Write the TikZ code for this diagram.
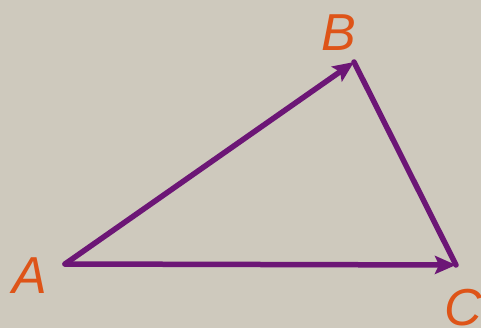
\documentclass[tikz,border=0pt]{standalone}
\usepackage{fontspec}
\setmainfont{Liberation Sans}
\usetikzlibrary{arrows.meta}
\definecolor{bg}{RGB}{206,201,189}
\definecolor{vec}{RGB}{108,22,118}
\definecolor{lbl}{RGB}{222,84,24}
\begin{document}
\begin{tikzpicture}[x=1pt,y=-1pt,
  vecline/.style={draw=vec,line width=5.5pt,line cap=round,line join=round},
  vecarrow/.style={vecline,-{Stealth[length=21pt,width=18pt,inset=4pt]}},
  ptlabel/.style={text=lbl,font=\fontsize{52}{52}\selectfont\itshape,inner sep=0pt}]
\fill[bg] (0,0) rectangle (481,328);
\useasboundingbox (0,0) rectangle (481,328);
\coordinate (A) at (65,264);
\coordinate (B) at (354,62);
\coordinate (C) at (456,265);
\draw[vecline] (B) -- (C);
\draw[vecarrow] (A) -- (B);
\draw[vecarrow] (A) -- (C);
\node[ptlabel] (la) at (30,276) {A};
\node[ptlabel] (lb) at (339,33) {B};
\node[ptlabel] (lc) at (463,308) {C};
\end{tikzpicture}
\end{document}
